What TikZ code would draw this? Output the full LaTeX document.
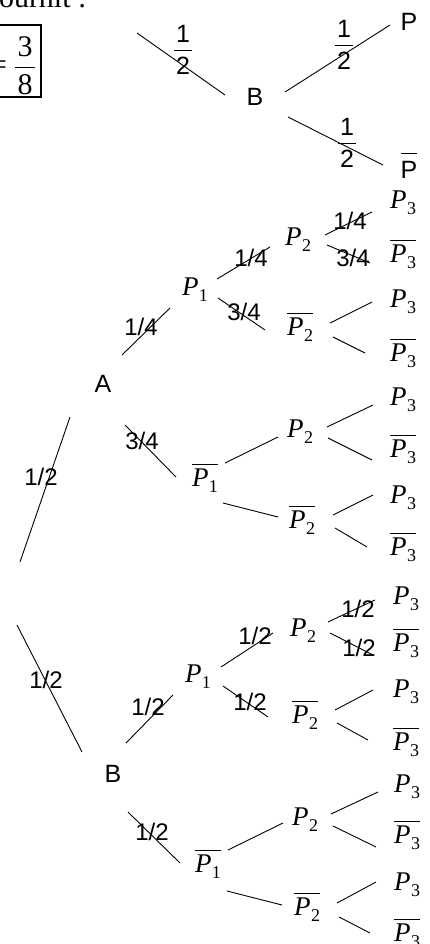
\documentclass[tikz,border=0pt]{standalone}
\usepackage{fontspec}
\setmainfont{Liberation Serif}
\setsansfont{Liberation Sans}
\usetikzlibrary{calc}
% bar over a box: #1 gap, #2 content
\newcommand\ovl[2]{{\setbox0\hbox{#2}\rlap{\rule[\dimexpr\ht0+#1\relax]{\wd0}{0.8pt}}\box0}}
% P with subscript
\newcommand\PP[1]{\hbox{\itshape P\kern0.5pt\raisebox{-6pt}{\upshape\fontsize{18}{20}\selectfont #1}}}
% stacked fraction: #1 gap above bar, #2 gap below bar, #3 numerator, #4 denominator
\newcommand\vfrac[4]{\vbox{\offinterlineskip\halign{\hfil\kern2pt##\kern2pt\hfil\cr #3\cr\noalign{\kern#1\hrule height 1pt\kern#2}#4\cr}}}
\newcommand\cnx[4]{\draw[br] ($(#1)+(#2)$) -- ($(#3)+(#4)$);}
\begin{document}
\begin{tikzpicture}[x=1pt,y=-1pt,
  every node/.style={inner sep=0pt,outer sep=0pt},
  lab/.style={font=\fontsize{24}{28}\sffamily},
  ev/.style={font=\fontsize{25}{30}\sffamily},
  pv/.style={font=\fontsize{27}{30}\selectfont},
  br/.style={line width=0.9pt,black}]
\useasboundingbox (0,0) rectangle (429,944);

% ---- top part
\node[anchor=base west,font=\fontsize{30}{34}\selectfont] (txt) at (-1,8) {ournit :};
\node[draw,line width=1.2pt,minimum width=42pt,minimum height=72pt,anchor=north west] (box) at (-1,25) {};
\node[font=\fontsize{30}{34}\selectfont] (eq) at (-1.5,68) {=};
\node[font=\fontsize{30}{34}\selectfont] (fr) at (25,66) {\vfrac{10pt}{7pt}{3}{8}};

\coordinate (t0) at (137,33);
\node[ev] (B0) at (255,97) {B};
\node[ev] (P0) at (409,22) {P};
\node[ev] (Q0) at (409,166) {\ovl{8pt}{P}};
\cnx{t0}{0,0}{B0}{-30,-2}
\cnx{B0}{30,-5}{P0}{-19,3}
\cnx{B0}{33,20}{Q0}{-26,-1}
\node[ev] (f0) at (183,50) {\vfrac{7pt}{6pt}{1}{2}};
\node[ev] (f1) at (344,45) {\vfrac{7pt}{6pt}{1}{2}};
\node[ev] (f2) at (347,143) {\vfrac{7pt}{6pt}{1}{2}};

% ---- main tree nodes
\node[ev] (A) at (103,384) {A};
\node[ev] (B) at (113,774) {B};
\node[pv] (P1a) at (195,290) {\PP{1}};
\node[pv] (Q1a) at (205,478) {\ovl{4pt}{\PP{1}}};
\node[pv] (P1b) at (198,677) {\PP{1}};
\node[pv] (Q1b) at (208,864) {\ovl{4pt}{\PP{1}}};
\node[pv] (P2a) at (298,240) {\PP{2}};
\node[pv] (Q2a) at (300,327) {\ovl{4pt}{\PP{2}}};
\node[pv] (P2b) at (300,432) {\PP{2}};
\node[pv] (Q2b) at (302,520) {\ovl{4pt}{\PP{2}}};
\node[pv] (P2c) at (303,631) {\PP{2}};
\node[pv] (Q2c) at (305,715) {\ovl{4pt}{\PP{2}}};
\node[pv] (P2d) at (305,820) {\PP{2}};
\node[pv] (Q2d) at (307,907) {\ovl{4pt}{\PP{2}}};
\node[pv] (L1) at (403,203) {\PP{3}};
\node[pv] (L2) at (403,254) {\ovl{4pt}{\PP{3}}};
\node[pv] (L3) at (403,302) {\PP{3}};
\node[pv] (L4) at (403,353) {\ovl{4pt}{\PP{3}}};
\node[pv] (L5) at (403,400) {\PP{3}};
\node[pv] (L6) at (403,449) {\ovl{4pt}{\PP{3}}};
\node[pv] (L7) at (403,498) {\PP{3}};
\node[pv] (L8) at (403,547) {\ovl{4pt}{\PP{3}}};
\node[pv] (L9) at (406,599) {\PP{3}};
\node[pv] (L10) at (406,643) {\ovl{4pt}{\PP{3}}};
\node[pv] (L11) at (406,692) {\PP{3}};
\node[pv] (L12) at (406,742) {\ovl{4pt}{\PP{3}}};
\node[pv] (L13) at (407,787) {\PP{3}};
\node[pv] (L14) at (407,835) {\ovl{4pt}{\PP{3}}};
\node[pv] (L15) at (407,885) {\PP{3}};
\node[pv] (L16) at (407,933) {\ovl{4pt}{\PP{3}}};

% ---- connectors
\coordinate (r1) at (20,562);
\coordinate (r2) at (17,625);
\cnx{r1}{0,0}{A}{-33,33}
\cnx{r2}{0,0}{B}{-31,-22}
\cnx{A}{19,-29}{P1a}{-25,18}
\cnx{A}{22,41}{Q1a}{-29,-1}
\cnx{B}{13,-31}{P1b}{-25,18}
\cnx{B}{15,38}{Q1b}{-28,-1}
\cnx{P1a}{22,-11}{P2a}{-28,7}
\cnx{P1a}{23,8}{Q2a}{-35,3}
\cnx{P2a}{27,-5}{L1}{-31,9}
\cnx{P2a}{29,5}{L2}{-33,9}
\cnx{Q2a}{30,-4}{L3}{-31,0}
\cnx{Q2a}{33,10}{L4}{-38,0}
\cnx{Q1a}{20,-15}{P2b}{-22,5}
\cnx{Q1a}{18,25}{Q2b}{-24,-3}
\cnx{P2b}{27,-5}{L5}{-30,5}
\cnx{P2b}{28,6}{L6}{-31,11}
\cnx{Q2b}{31,-5}{L7}{-30,-3}
\cnx{Q2b}{33,8}{L8}{-36,0}
\cnx{P1b}{23,-10}{P2c}{-30,2}
\cnx{P1b}{25,9}{Q2c}{-37,2}
\cnx{P2c}{25,-9}{L9}{-31,1}
\cnx{P2c}{27,2}{L10}{-33,12}
\cnx{Q2c}{30,-5}{L11}{-33,-2}
\cnx{Q2c}{32,8}{L12}{-38,-2}
\cnx{Q1b}{20,-14}{P2d}{-22,3}
\cnx{Q1b}{19,27}{Q2d}{-25,-2}
\cnx{P2d}{26,-6}{L13}{-29,5}
\cnx{P2d}{28,6}{L14}{-31,12}
\cnx{Q2d}{30,-4}{L15}{-31,-3}
\cnx{Q2d}{32,10}{L16}{-37,0}

% ---- probability labels
\node[lab] (w1) at (41,477) {1/2};
\node[lab] (w2) at (46,680) {1/2};
\node[lab] (w3) at (141,327) {1/4};
\node[lab] (w4) at (142,441) {3/4};
\node[lab] (w5) at (148,707) {1/2};
\node[lab] (w6) at (152,832) {1/2};
\node[lab] (w7) at (251,258) {1/4};
\node[lab] (w8) at (244,312) {3/4};
\node[lab] (w9) at (350,221) {1/4};
\node[lab] (w10) at (353,258) {3/4};
\node[lab] (w11) at (255,636) {1/2};
\node[lab] (w12) at (250,702) {1/2};
\node[lab] (w13) at (358,609) {1/2};
\node[lab] (w14) at (359,648) {1/2};
\end{tikzpicture}
\end{document}
